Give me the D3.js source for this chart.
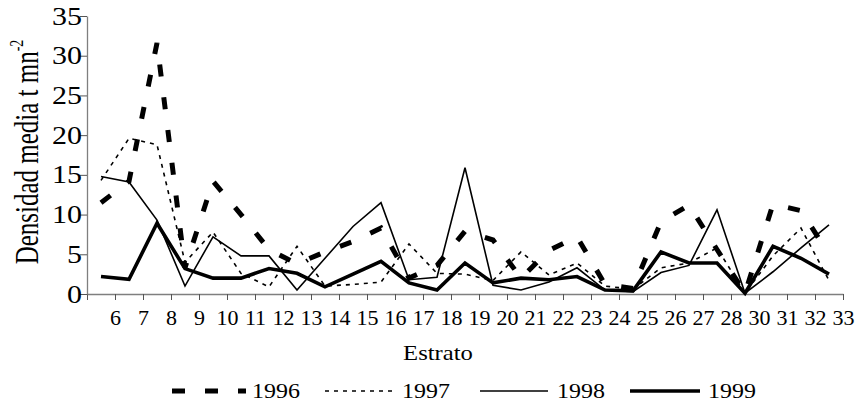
<!DOCTYPE html>
<html>
<head>
<meta charset="utf-8">
<script src="https://cdn.jsdelivr.net/npm/d3@7"></script>
<style>
  body { margin: 0; background: #fff; }
  text { font-family: "Liberation Serif", "Times New Roman", serif; fill: #000; }
</style>
</head>
<body>
<svg id="chart" width="855" height="405"></svg>
<script>
// Estrato categories (29 is missing in the original)
var labels = ["6","7","8","9","10","11","12","13","14","15","16","17","18","19","20",
              "21","22","23","24","25","26","27","28","30","31","32","33"];
var yTicks = [0, 5, 10, 15, 20, 25, 30, 35];

// Densidad media per year
var s1996 = [11.5,14.2,31.6,3.3,14.2,10.0,5.6,3.8,5.3,6.6,8.3,2.0,3.6,7.9,6.8,2.0,5.5,7.2,1.2,0.7,9.1,11.2,5.6,0.1,11.3,10.5,5.0];
var s1997 = [14.3,19.6,18.8,4.0,7.8,2.6,0.9,6.0,1.0,1.2,1.5,6.3,2.6,2.5,1.7,5.3,2.4,3.9,1.0,0.6,3.3,3.9,5.8,0.1,4.8,8.3,1.7];
var s1998 = [14.8,14.1,9.3,1.0,7.2,4.8,4.8,0.5,4.5,8.5,11.5,1.8,2.1,15.9,1.1,0.5,1.5,3.3,0.5,0.3,2.7,3.6,10.6,0.1,2.8,5.8,8.7];
var s1999 = [2.2,1.85,8.9,3.2,2.0,2.0,3.2,2.6,0.9,2.5,4.1,1.4,0.5,3.9,1.4,2.0,1.8,2.2,0.5,0.4,5.3,3.9,3.9,0.1,6.0,4.5,2.5];

var series = [
  { name: "1996", values: s1996, width: 5,   dash: "12,21", legDash: "13,20", x0: 172, x1: 246, tx: 252 },
  { name: "1997", values: s1997, width: 1.6, dash: "4,5",   legDash: "4,5",   x0: 325, x1: 397, tx: 402 },
  { name: "1998", values: s1998, width: 1.6, dash: null,    legDash: null,    x0: 480, x1: 548, tx: 557 },
  { name: "1999", values: s1999, width: 3.6, dash: null,    legDash: null,    x0: 630, x1: 700, tx: 708 }
];

var svg = d3.select("#chart");
var plotL = 87, plotR = 843, plotT = 16, plotB = 294;
var axisColor = "#7f7f7f";

// band per estrato, points in the middle of each band
var x = d3.scaleBand().domain(labels).range([plotL, plotR]).padding(0);
// tick marks sit on band edges, the label under the right edge
var xt = d3.scalePoint().domain([""].concat(labels)).range([plotL, plotR]);
var y = d3.scaleLinear().domain([0, 35]).range([plotB, plotT]);

// X axis
var gx = svg.append("g")
  .attr("transform", "translate(0," + plotB + ")")
  .call(d3.axisBottom(xt).tickSize(6).tickSizeOuter(0).tickPadding(11));
gx.select(".domain").attr("stroke", axisColor).attr("stroke-width", 1.3);
gx.selectAll(".tick line").attr("stroke", "#555");
gx.selectAll("text")
  .attr("font-size", 20)
  .attr("transform", "scale(1.1,1)");

// Y axis
var gy = svg.append("g")
  .attr("transform", "translate(" + plotL + ",0)")
  .call(d3.axisLeft(y).tickValues(yTicks).tickSize(7).tickSizeOuter(0));
gy.select(".domain").attr("stroke", axisColor).attr("stroke-width", 1.3);
gy.selectAll(".tick line").attr("stroke", "#555");
gy.selectAll("text")
  .attr("font-size", 25)
  .attr("x", -5 / 1.2)
  .attr("transform", "scale(1.2,1)");

svg.selectAll(".tick text").attr("fill", "#000").style("font-family", "'Liberation Serif', serif");

// lines
var line = d3.line()
  .x(function(d, i) { return x(labels[i]) + x.bandwidth() / 2; })
  .y(function(d) { return y(d); });

svg.append("g")
  .selectAll("path")
  .data(series)
  .enter()
  .append("path")
    .attr("d", function(s) { return line(s.values); })
    .attr("fill", "none")
    .attr("stroke", "#000")
    .attr("stroke-width", function(s) { return s.width; })
    .attr("stroke-dasharray", function(s) { return s.dash; })
    .attr("stroke-linejoin", "miter")
    .attr("stroke-linecap", "butt");

// axis titles
svg.append("text")
  .attr("x", 0)
  .attr("y", 0)
  .attr("transform", "translate(438,360) scale(1.12,1)")
  .attr("text-anchor", "middle")
  .attr("font-size", 22)
  .text("Estrato");

var yt = svg.append("text")
  .attr("transform", "translate(38,152) scale(1.35,1) rotate(-90)")
  .attr("text-anchor", "middle")
  .attr("font-size", 25);
yt.append("tspan").text("Densidad media t mn");
yt.append("tspan").attr("font-size", 14).attr("dy", -11).text("-2");

// legend
var leg = svg.append("g");
leg.selectAll("line")
  .data(series)
  .enter()
  .append("line")
    .attr("x1", function(s) { return s.x0; })
    .attr("x2", function(s) { return s.x1; })
    .attr("y1", 391)
    .attr("y2", 391)
    .attr("stroke", "#000")
    .attr("stroke-width", function(s) { return s.width; })
    .attr("stroke-dasharray", function(s) { return s.legDash; });
leg.selectAll("text")
  .data(series)
  .enter()
  .append("text")
    .attr("transform", function(s) { return "translate(" + s.tx + ",398) scale(1.09,1)"; })
    .attr("font-size", 22)
    .text(function(s) { return s.name; });
</script>
</body>
</html>
